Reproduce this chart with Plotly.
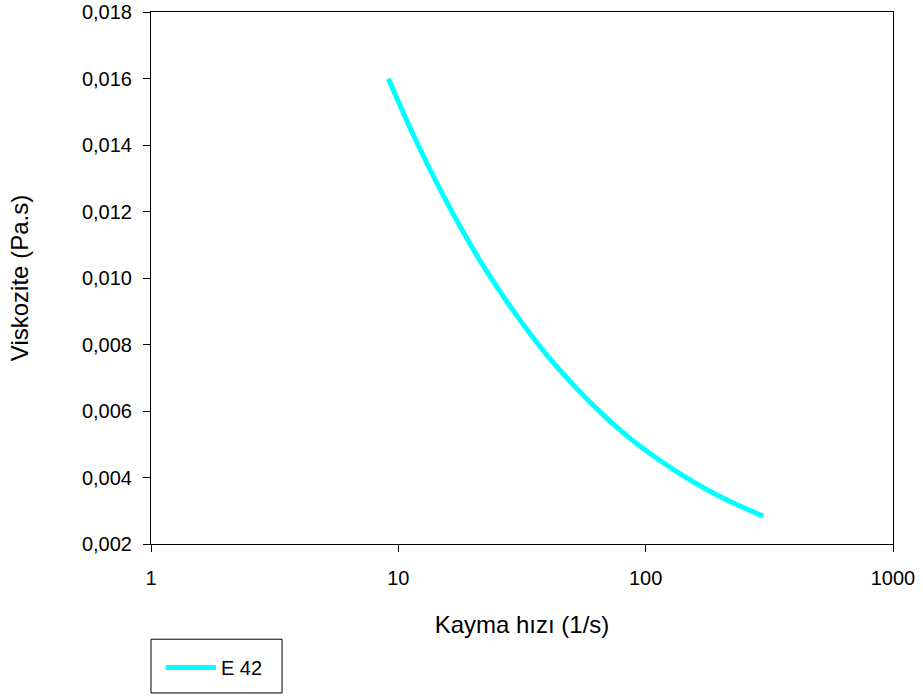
import plotly.graph_objects as go

# Data
shear_rate = [9.12, 11.5, 15.7, 21.4, 29.2, 39.8, 61.4, 83.8, 114.2, 155.7, 212.4, 298.6]
viscosity = [0.01599, 0.01430, 0.01228, 0.01052, 0.00901, 0.00769, 0.00617,
             0.00526, 0.00451, 0.00387, 0.00333, 0.00284]
series_name = "E 42"
x_tick_vals = [1, 10, 100, 1000]
x_tick_text = ["1", "10", "100", "1000"]
y_range = [0.002, 0.018]

FONT = "Liberation Sans, Arial, sans-serif"

fig = go.Figure()
fig.add_trace(go.Scatter(
    x=shear_rate, y=viscosity, mode="lines", name=series_name,
    line=dict(color="#00FFFF", width=5, shape="spline"),
))

fig.update_layout(
    width=923, height=699, autosize=False,
    margin=dict(l=151, r=30, t=12, b=152),
    paper_bgcolor="white", plot_bgcolor="white",
    separators=",.",
    font=dict(family=FONT, size=20, color="black"),
    showlegend=True,
    legend=dict(
        x=0.0134, y=-0.232, xanchor="left", yanchor="middle",
        borderwidth=0, bgcolor="rgba(0,0,0,0)",
        font=dict(family=FONT, size=20, color="black"),
        itemwidth=50,
    ),
    shapes=[dict(
        type="rect", xref="paper", yref="paper",
        x0=0, x1=0.1766, y0=-0.280, y1=-0.179,
        line=dict(color="black", width=1), fillcolor="rgba(0,0,0,0)",
    )],
)

fig.update_xaxes(
    type="log", range=[0, 3], automargin=False,
    tickvals=x_tick_vals, ticktext=x_tick_text,
    ticks="outside", ticklen=7, tickwidth=1, tickcolor="black",
    showline=True, linecolor="black", linewidth=1, mirror=True,
    showgrid=False, zeroline=False,
    tickfont=dict(family=FONT, size=20), ticklabelstandoff=9,
    title=dict(text="Kayma hızı (1/s)", font=dict(family=FONT, size=24), standoff=28),
)
fig.update_yaxes(
    range=y_range, dtick=0.002, tick0=0.002, tickformat=".3f", automargin=False,
    ticks="outside", ticklen=7, tickwidth=1, tickcolor="black",
    showline=True, linecolor="black", linewidth=1, mirror=True,
    showgrid=False, zeroline=False,
    tickfont=dict(family=FONT, size=20), ticklabelstandoff=7,
    title=dict(text="Viskozite (Pa.s)", font=dict(family=FONT, size=24), standoff=46),
)

fig.write_html("out.html", post_script="document.body.style.margin='0';",
               config={"displayModeBar": False})
